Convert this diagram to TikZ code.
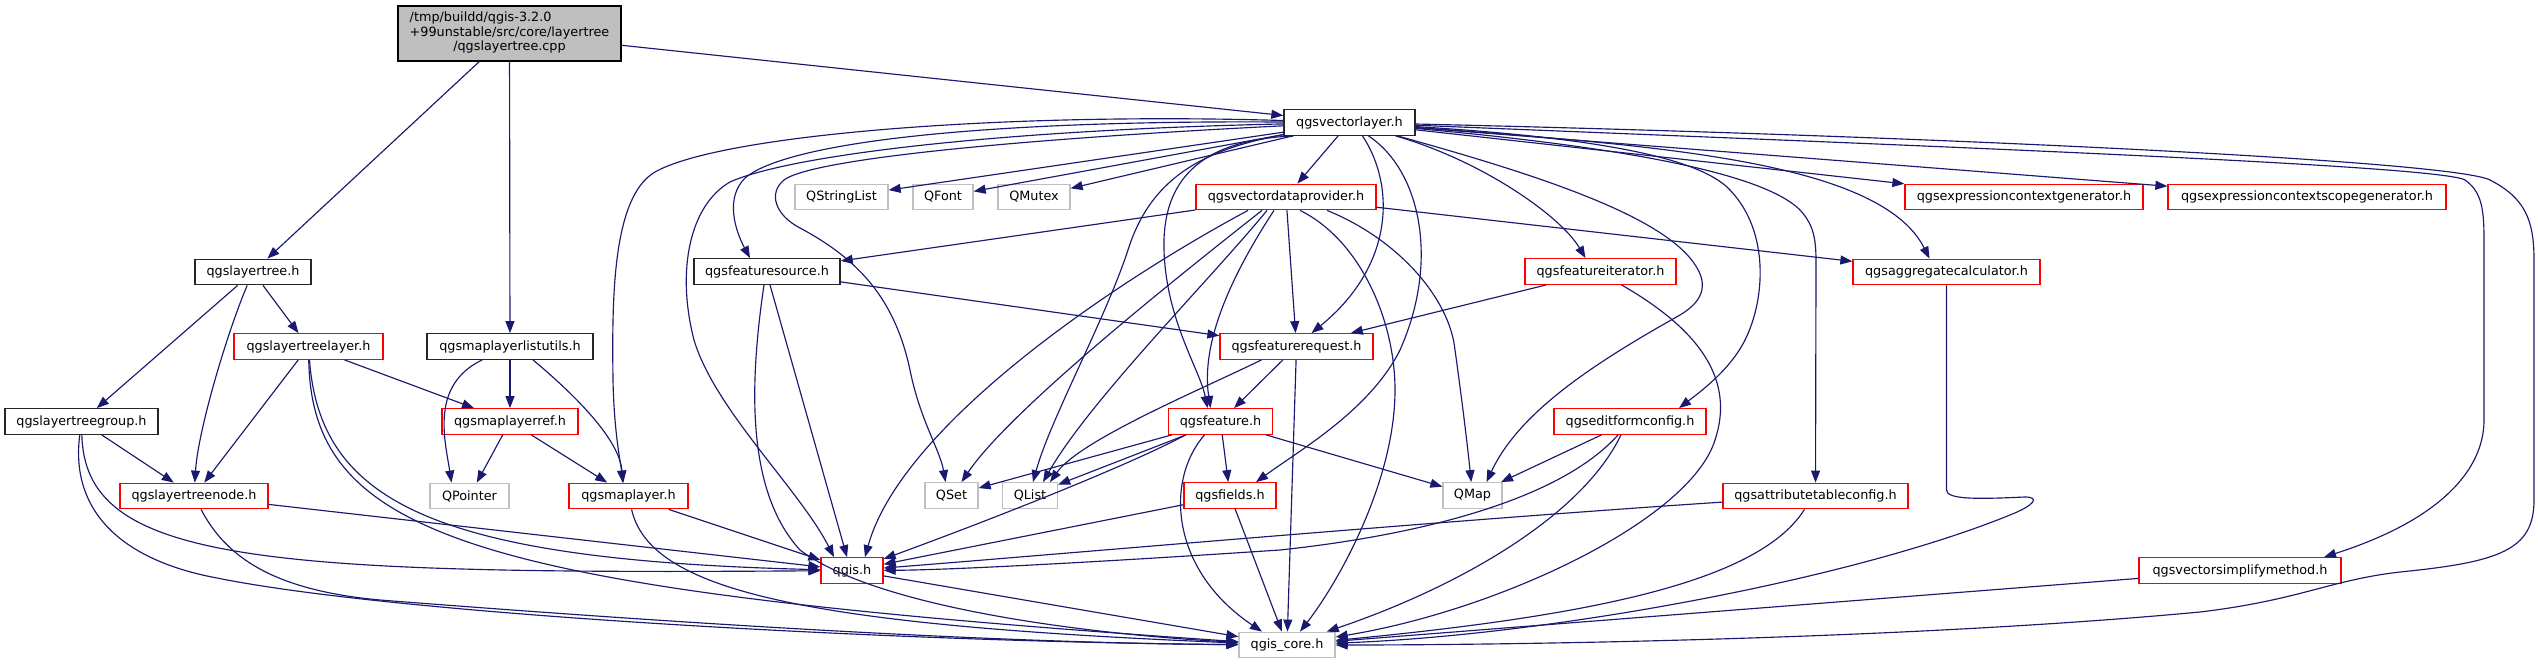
\documentclass[tikz,border=0pt]{standalone}
\usepackage{fontspec}
\setmainfont{DejaVu Sans}
\usetikzlibrary{arrows.meta,calc}
\definecolor{edgec}{HTML}{191970}
\definecolor{nodegray}{HTML}{BFBFBF}
\definecolor{nodered}{HTML}{FF0000}
\begin{document}
\begin{tikzpicture}[x=1pt,y=-1pt,
  nb/.style={draw, rectangle, inner sep=0pt, minimum height=25.5pt, font=\fontsize{12.8}{14.5}\selectfont, fill=white, line width=1.3pt},
  blk/.style={nb, draw=black!85},
  redn/.style={nb, draw=nodered},
  gry/.style={nb, draw=nodegray},
  edg/.style={draw=edgec, line width=1.15pt, -{Triangle[length=12pt,width=9pt]}}]
\fill[white] (0,0) rectangle (2538,664);
\useasboundingbox (0,0) rectangle (2538,664);
% nodes
\node[nb, draw=black, fill=nodegray, minimum width=223pt, minimum height=55pt] (root) at (509.5,33.5)
  {\begin{tabular}{@{}l@{}}/tmp/buildd/qgis-3.2.0\\+99unstable/src/core/layertree\\\multicolumn{1}{@{}c@{}}{/qgslayertree.cpp}\end{tabular}};
\node[blk, minimum width=116pt] (lt) at (253,272) {qgslayertree.h};
\node[redn, minimum width=149pt] (ltl) at (308.5,346.5) {qgslayertreelayer.h};
\node[blk, minimum width=166pt] (mlu) at (510,346.5) {qgsmaplayerlistutils.h};
\node[blk, minimum width=153pt] (ltg) at (81.5,421.5) {qgslayertreegroup.h};
\node[redn, minimum width=136pt] (mlr) at (510,421.5) {qgsmaplayerref.h};
\node[redn, minimum width=148pt] (ltn) at (194,496) {qgslayertreenode.h};
\node[gry, minimum width=79pt] (qptr) at (469.5,496) {QPointer};
\node[redn, minimum width=119pt] (mlay) at (628.5,496) {qgsmaplayer.h};
\node[redn, minimum width=62pt] (qgis) at (852,570.5) {qgis.h};
\node[gry, minimum width=96pt] (core) at (1287,645) {qgis\_core.h};
\node[blk, minimum width=131pt] (vl) at (1349.5,122.5) {qgsvectorlayer.h};
\node[gry, minimum width=93pt] (qsl) at (841.5,197) {QStringList};
\node[gry, minimum width=60pt] (qfont) at (943,197) {QFont};
\node[gry, minimum width=72pt] (qmutex) at (1034,197) {QMutex};
\node[redn, minimum width=180pt] (vdp) at (1286,197) {qgsvectordataprovider.h};
\node[blk, minimum width=146pt] (fsrc) at (767,271.5) {qgsfeaturesource.h};
\node[redn, minimum width=151pt] (fiter) at (1600.5,271.5) {qgsfeatureiterator.h};
\node[redn, minimum width=187pt] (aggr) at (1946.5,272) {qgsaggregatecalculator.h};
\node[redn, minimum width=238pt] (expr1) at (2024,197) {qgsexpressioncontextgenerator.h};
\node[redn, minimum width=278pt] (expr2) at (2307,197) {qgsexpressioncontextscopegenerator.h};
\node[redn, minimum width=153pt] (freq) at (1296.5,346.5) {qgsfeaturerequest.h};
\node[redn, minimum width=104pt] (feat) at (1220.5,421.5) {qgsfeature.h};
\node[gry, minimum width=53pt] (qset) at (951.5,495.5) {QSet};
\node[gry, minimum width=55pt] (qlist) at (1030,495.5) {QList};
\node[redn, minimum width=92pt] (fields) at (1230,495.5) {qgsfields.h};
\node[gry, minimum width=59pt] (qmap) at (1472.5,495.5) {QMap};
\node[redn, minimum width=152pt] (efc) at (1630,421.5) {qgseditformconfig.h};
\node[redn, minimum width=185pt] (atc) at (1815.5,496) {qgsattributetableconfig.h};
\node[redn, minimum width=202pt] (vsm) at (2240,570.5) {qgsvectorsimplifymethod.h};
% root
\draw[edg] (root) -- (lt);
\draw[edg] (root) -- (mlu);
\draw[edg] (root) -- (vl);
% lt
\draw[edg] (lt) -- (ltg);
\draw[edg] (lt) .. controls (228,330) and (198,430) .. (ltn);
\draw[edg] (lt) -- (ltl);
% ltl
\draw[edg] (ltl) -- (ltn);
\draw[edg] (ltl) -- (mlr);
\draw[edg] (ltl) .. controls (320,500) and (430,560) .. (qgis);
\draw[edg] (ltl) .. controls (312,540) and (480,590) .. (core);
% mlu
\draw[edg] (mlu) .. controls (430,385) and (445,440) .. ([xshift=-18pt]qptr.north);
\draw[edg] (mlu) -- (mlr);
\draw[edg] ([xshift=23pt]mlu.south) .. controls (575,395) and (620,440) .. ([xshift=-6pt]mlay.north);
% ltg
\draw[edg] (ltg) -- (ltn);
\draw[edg] (ltg) .. controls (85,560) and (250,575) .. (qgis);
\draw[edg] (ltg) .. controls (70,510) and (120,560) .. (217,578) .. controls (400,615) and (900,642) .. (core);
% ltn
\draw[edg] (ltn) -- (qgis);
\draw[edg] (ltn) .. controls (225,555) and (270,590) .. (380,600) .. controls (700,625) and (1000,643) .. (core);
% mlr
\draw[edg] (mlr) -- (qptr);
\draw[edg] (mlr) -- (mlay);
% mlay
\draw[edg] (mlay) -- (qgis);
\draw[edg] (mlay) .. controls (650,590) and (800,625) .. (core);
% qgis
\draw[edg] (qgis) -- (core);
% vl fan
\draw[edg] (vl) -- (qsl);
\draw[edg] (vl) -- (qfont);
\draw[edg] (vl) -- (qmutex);
\draw[edg] (vl) -- (vdp);
\draw[edg] (vl) .. controls (1000,120) and (790,140) .. (745,178) .. controls (725,198) and (735,230) .. ([xshift=-17pt]fsrc.north);
\draw[edg] (vl) .. controls (1000,112) and (720,135) .. (655,172) .. controls (612,197) and (612,300) .. (613,380) .. controls (614,430) and (620,460) .. ([xshift=-5pt]mlay.north);
\draw[edg] (vl) .. controls (1000,130) and (790,155) .. (730,182) .. controls (690,205) and (676,270) .. (694,340) .. controls (715,410) and (800,490) .. ([xshift=-18pt]qgis.north);
\draw[edg] (vl) .. controls (1000,140) and (810,160) .. (784,180) .. controls (768,193) and (775,215) .. (800,228) .. controls (860,260) and (895,300) .. (910,370) .. controls (920,420) and (940,450) .. ([xshift=-6pt]qset.north);
\draw[edg] (vl) .. controls (1200,150) and (1150,180) .. (1128,250) .. controls (1105,320) and (1050,420) .. ([xshift=3pt]qlist.north);
\draw[edg] ([xshift=-56pt]vl.south) .. controls (1200,140) and (1162,180) .. (1164,250) .. controls (1166,320) and (1200,370) .. ([xshift=-13pt]feat.north);
\draw[edg] ([xshift=13pt]vl.south) .. controls (1395,185) and (1395,265) .. ([xshift=15pt]freq.north);
\draw[edg] ([xshift=19pt]vl.south) .. controls (1420,170) and (1440,260) .. (1400,350) .. controls (1370,410) and (1300,450) .. ([xshift=26pt]fields.north);
\draw[edg] ([xshift=46pt]vl.south) .. controls (1480,160) and (1560,215) .. ([xshift=-15pt]fiter.north);
\draw[edg] ([xshift=48pt]vl.south) .. controls (1520,170) and (1650,210) .. (1690,258) .. controls (1710,282) and (1705,300) .. (1680,315) .. controls (1600,360) and (1520,410) .. ([xshift=14pt]qmap.north);
\draw[edg] (vl) .. controls (1600,138) and (1700,158) .. (1730,190) .. controls (1770,232) and (1765,300) .. (1745,340) .. controls (1730,370) and (1700,392) .. ([xshift=49pt]efc.north);
\draw[edg] (vl) .. controls (1600,145) and (1760,170) .. (1800,210) .. controls (1814,225) and (1816,240) .. (1816,262) -- (atc);
\draw[edg] (vl) .. controls (1650,145) and (1880,160) .. ([xshift=-17pt]aggr.north);
\draw[edg] (vl) -- (expr1);
\draw[edg] (vl) -- (expr2);
\draw[edg] (vl) .. controls (1900,145) and (2440,165) .. (2465,180) .. controls (2482,192) and (2484,210) .. (2484,240) -- (2484,420) .. controls (2484,470) and (2440,520) .. ([xshift=84pt]vsm.north);
\draw[edg] (vl) .. controls (1900,135) and (2450,160) .. (2490,180) .. controls (2525,198) and (2534,220) .. (2534,260) -- (2534,500) .. controls (2534,550) and (2500,562) .. (2400,572) .. controls (2330,580) and (2300,600) .. (2200,612) .. controls (1900,640) and (1500,645) .. (core);
% vdp
\draw[edg] (vdp) -- (fsrc);
\draw[edg] (vdp) -- (aggr);
\draw[edg] ([xshift=-38pt]vdp.south) .. controls (1100,290) and (900,430) .. ([xshift=13pt]qgis.north);
\draw[edg] ([xshift=-24pt]vdp.south) .. controls (1180,275) and (1010,410) .. ([xshift=10pt]qset.north);
\draw[edg] ([xshift=-19pt]vdp.south) .. controls (1210,280) and (1090,400) .. ([xshift=13pt]qlist.north);
\draw[edg] ([xshift=-12pt]vdp.south) .. controls (1235,270) and (1200,340) .. ([xshift=-10pt]feat.north);
\draw[edg] (vdp) -- (freq);
\draw[edg] ([xshift=14pt]vdp.south) .. controls (1360,240) and (1395,320) .. (1395,390) .. controls (1395,480) and (1340,580) .. ([xshift=13pt]core.north);
\draw[edg] ([xshift=41pt]vdp.south) .. controls (1400,240) and (1450,300) .. (1455,350) .. controls (1462,400) and (1468,450) .. (qmap);
% fsrc
\draw[edg] (fsrc) -- (freq);
\draw[edg] ([xshift=3pt]fsrc.south) -- ([xshift=-5pt]qgis.north);
\draw[edg] ([xshift=-3pt]fsrc.south) .. controls (750,380) and (745,490) .. (800,550) .. controls (880,610) and (1100,635) .. (core);
% fiter
\draw[edg] (fiter) -- (freq);
\draw[edg] ([xshift=21pt]fiter.south) .. controls (1700,330) and (1735,380) .. (1715,440) .. controls (1690,520) and (1500,610) .. (core);
% freq
\draw[edg] (freq) -- (feat);
\draw[edg] ([xshift=-35pt]freq.south) .. controls (1200,390) and (1080,440) .. ([xshift=20pt]qlist.north);
\draw[edg] (freq) -- (core);
% feat
\draw[edg] (feat) -- (qset);
\draw[edg] (feat) -- (qlist);
\draw[edg] (feat) -- (fields);
\draw[edg] (feat) -- (qmap);
\draw[edg] ([xshift=-35pt]feat.south) .. controls (1130,465) and (990,520) .. (qgis);
\draw[edg] ([xshift=-16pt]feat.south) .. controls (1165,480) and (1170,570) .. ([xshift=-25pt]core.north);
% fields
\draw[edg] (fields) -- (qgis);
\draw[edg] (fields) -- (core);
% efc
\draw[edg] (efc) -- (qmap);
\draw[edg] ([xshift=-12pt]efc.south) .. controls (1560,500) and (1420,535) .. (1280,550) .. controls (1100,562) and (950,570) .. (qgis);
\draw[edg] ([xshift=-9pt]efc.south) .. controls (1580,520) and (1450,590) .. (core);
% atc
\draw[edg] (atc) .. controls (1450,520) and (1050,555) .. (qgis);
\draw[edg] ([xshift=-11pt]atc.south) .. controls (1760,580) and (1600,615) .. (core);
% aggr
\draw[edg] (aggr.south) -- (1946.5,490) .. controls (1946.5,500) and (1980,499) .. (2025,497) .. controls (2040,497) and (2035,505) .. (2010,515) .. controls (1850,580) and (1550,635) .. (core);
% vsm
\draw[edg] (vsm) -- (core);
\end{tikzpicture}
\end{document}
